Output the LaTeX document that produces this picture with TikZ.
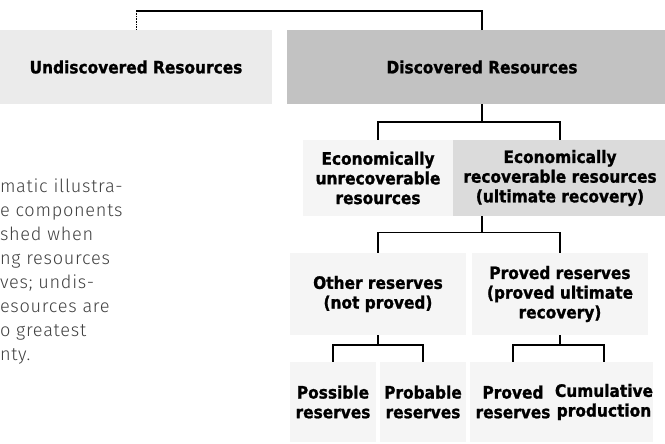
\documentclass[tikz,border=0pt]{standalone}
\usepackage{fontspec}
\newfontfamily\boxfont[FakeBold=1.2]{DejaVu Sans Condensed Bold}
\newfontfamily\notefont[LetterSpace=4]{Fira Sans Light}
\usetikzlibrary{positioning}

\begin{document}
\begin{tikzpicture}[x=0.03cm,y=-0.03cm,
  every node/.style={inner sep=0pt, outer sep=0pt, align=center},
  box/.style={minimum width=#1, minimum height=2.3cm,
    font=\boxfont\fontsize{14.6}{16.8}\selectfont},
  dark/.style={fill=black!24},
  mid/.style={fill=black!14},
  pale/.style={fill=black!4},
  link/.style={line width=1.3pt},
  note/.style={anchor=base west, font=\notefont\fontsize{15.5}{18}\selectfont, text=black!75}]
\useasboundingbox (0,0) rectangle (665,443);
\clip (0,0) rectangle (665,443);

% top level
\node[box=8.16cm, minimum height=2.22cm, fill=black!8] (undisc) at (136,67) {Undiscovered Resources};
\node[box=11.7cm, minimum height=2.22cm, dark] (disc) at (482,67) {Discovered Resources};

% second level
\node[box=4.5cm, pale] (unrec) at (378,178) {Economically\\unrecoverable\\resources};
\node[box=6.42cm, mid] (recov) at (560,178) {Economically\\recoverable resources\\(ultimate recovery)};

% third level
\node[box=5.3cm, minimum height=2.46cm, pale] (other) at (378,294) {Other reserves\\(not proved)};
\node[box=5.3cm, minimum height=2.46cm, pale] (proved) at (560,294) {Proved reserves\\(proved ultimate\\recovery)};

% bottom row
\node[box=2.6cm, minimum height=2.4cm, pale] (possible) at (333,402) {Possible\\reserves};
\node[box=2.6cm, minimum height=2.4cm, pale] (probable) at (423,402) {Probable\\reserves};
\node[box=2.6cm, minimum height=2.4cm, pale] (provres) at (513,402) {Proved\\reserves};
\node[box=2.6cm, minimum height=2.4cm, pale] (cumul) at (604,402) {Cumulative\\production};

% connectors
\coordinate (top) at (136,11);
\draw[link] (disc.north) |- (top);
\draw[densely dotted] (top) -- (undisc.north);

\draw[link] (disc.south) -- ++(0,18) coordinate (j1);
\draw[link] (j1) -| (unrec.north);
\draw[link] (j1) -| (recov.north);

\draw[link] (recov.south -| disc.south) -- ++(0,16) coordinate (j2);
\draw[link] (j2) -| (other.north);
\draw[link] (j2) -| (proved.north);

\draw[link] (other.south) -- ++(0,10) coordinate (j3);
\draw[link] (j3) -| (possible.north);
\draw[link] (j3) -| (probable.north);

\draw[link] (proved.south) -- ++(0,10) coordinate (j4);
\draw[link] (j4) -| (provres.north);
\draw[link] (j4) -| (cumul.north);

% caption text, cut at the left edge (baselines)
\node[note] (c1) at (0,192) {matic illustra-};
\node[note] (c2) at (0,216) {e components};
\node[note] (c3) at (0,240) {shed when};
\node[note] (c4) at (0,264) {ng resources};
\node[note] (c5) at (0,288) {ves; undis-};
\node[note] (c6) at (0,312) {esources are};
\node[note] (c7) at (0,336) {o greatest};
\node[note] (c8) at (0,360) {nty.};
\end{tikzpicture}
\end{document}
